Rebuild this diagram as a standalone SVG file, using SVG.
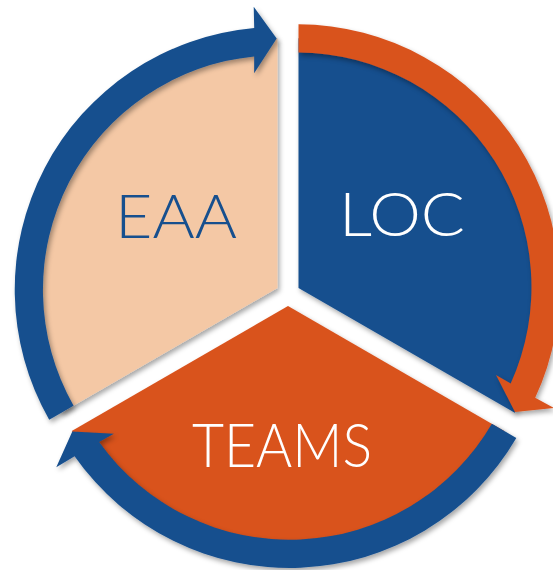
<svg xmlns="http://www.w3.org/2000/svg" xmlns:xlink="http://www.w3.org/1999/xlink" width="553" height="570" viewBox="0 0 553 570">
  <style>
    .blue { fill: #164F8E; }
    .orange { fill: #D9531F; }
    .peach { fill: #F4C8A5; }
    .label { font-family: "Lato", "Open Sans", "Liberation Sans", sans-serif; font-weight: 300; font-size: 62px; text-anchor: middle; }
  </style>
  <defs>
    <filter id="sh" x="-10%" y="-10%" width="125%" height="125%">
      <feDropShadow dx="2" dy="3" stdDeviation="2.5" flood-color="#000" flood-opacity="0.35"/>
    </filter>
    <path id="sector" d="M298.5,287.94 L298.5,38.22 A256,256 0 0 1 514.76,412.8 Z"/>
    <path id="ring-arrow" d="M298.5,24.3 A262.7,262.7 0 0 1 535.2,397.7 L554,408 L515,412 L496,375 L510.7,383.5 A234.5,234.5 0 0 0 298.5,52.5 Z"/>
  </defs>

  <g id="node-loc">
    <g filter="url(#sh)"><use xlink:href="#sector" class="blue"/></g>
    <text class="label" x="402" y="236" fill="#FFFFFF" textLength="126" lengthAdjust="spacingAndGlyphs">LOC</text>
  </g>
  <g id="node-teams">
    <g filter="url(#sh)"><use xlink:href="#sector" class="orange" transform="rotate(120 288 294)"/></g>
    <text class="label" x="282" y="467" fill="#FFFFFF" textLength="180" lengthAdjust="spacingAndGlyphs">TEAMS</text>
  </g>
  <g id="node-eaa">
    <g filter="url(#sh)"><use xlink:href="#sector" class="peach" transform="rotate(240 288 294)"/></g>
    <text class="label" x="176" y="238" fill="#164F8E" textLength="122" lengthAdjust="spacingAndGlyphs">EAA</text>
  </g>

  <g id="connectors" filter="url(#sh)">
    <use id="arrow-loc-teams" xlink:href="#ring-arrow" class="orange"/>
    <use id="arrow-teams-eaa" xlink:href="#ring-arrow" class="blue" transform="rotate(120 288 294)"/>
    <use id="arrow-eaa-loc" xlink:href="#ring-arrow" class="blue" transform="rotate(240 288 294)"/>
  </g>
</svg>
